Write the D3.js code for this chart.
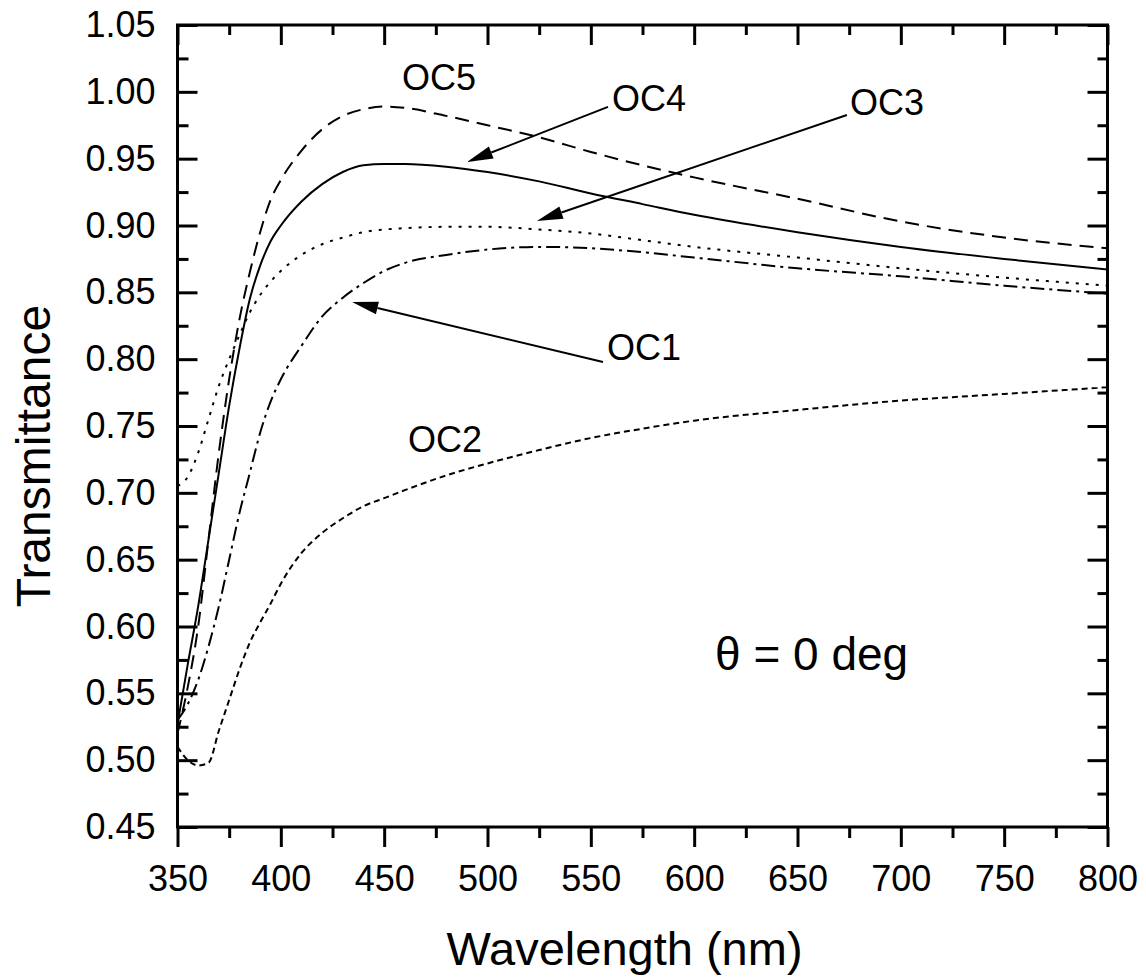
<!DOCTYPE html>
<html><head><meta charset="utf-8">
<script src="https://cdn.jsdelivr.net/npm/d3@7"></script>
<style>body{margin:0;background:#fff}svg{display:block}</style>
</head><body>
<svg id="c" width="1146" height="979"></svg>
<script>
// ---- data ----
const wavelengths = [350,355,360,365,370,375,380,385,390,395,400,410,420,430,440,450,460,480,500,525,550,575,600,650,700,750,800];
const oc1 = [0.530,0.542,0.560,0.585,0.615,0.650,0.685,0.715,0.745,0.768,0.785,0.810,0.832,0.846,0.857,0.866,0.872,0.878,0.882,0.884,0.883,0.880,0.876,0.868,0.862,0.855,0.849];
const oc2 = [0.510,0.500,0.496,0.498,0.522,0.545,0.568,0.588,0.603,0.617,0.632,0.655,0.670,0.681,0.690,0.696,0.702,0.713,0.722,0.732,0.741,0.748,0.754,0.762,0.769,0.774,0.779];
const oc3 = [0.705,0.712,0.730,0.755,0.780,0.800,0.818,0.835,0.848,0.858,0.866,0.878,0.886,0.891,0.895,0.897,0.898,0.899,0.899,0.897,0.894,0.889,0.884,0.876,0.868,0.861,0.855];
const oc4 = [0.527,0.572,0.615,0.665,0.715,0.765,0.808,0.845,0.870,0.888,0.900,0.918,0.931,0.940,0.945,0.946,0.946,0.944,0.940,0.933,0.924,0.916,0.908,0.895,0.884,0.875,0.867];
const oc5 = [0.520,0.555,0.600,0.665,0.730,0.785,0.830,0.865,0.895,0.919,0.934,0.956,0.972,0.982,0.987,0.989,0.988,0.982,0.975,0.966,0.955,0.945,0.936,0.920,0.903,0.891,0.883];
const seriesNames = ["OC1","OC2","OC3","OC4","OC5"];
const xMajorTicks = [350,400,450,500,550,600,650,700,750,800];
const xMinorTicks = [375,425,475,525,575,625,675,725,775];
const yMajorTicks = [0.45,0.50,0.55,0.60,0.65,0.70,0.75,0.80,0.85,0.90,0.95,1.00,1.05];
const yMinorTicks = [0.475,0.525,0.575,0.625,0.675,0.725,0.775,0.825,0.875,0.925,0.975,1.025];
// label anchors in data units: [wavelength, transmittance]
const labelPos = {OC5:[458.6,1.0014], OC4:[560.2,0.9857], OC3:[675.4,0.9827], OC1:[557.8,0.7994], OC2:[461.5,0.7305]};
// arrows: from [λ,T] to tip [λ,T]
const arrows = [
  {from:[558.3,0.9887], to:[490.1,0.9475]},
  {from:[673.9,0.9827], to:[523.9,0.9034]},
  {from:[555.9,0.7979], to:[434.5,0.8428]}
];
const annotation = "θ = 0 deg";
const annotationPos = [610.1,0.5675];

// ---- drawing ----
const svg = d3.select("#c");
const L = 177.5, R = 1107.5, T = 25, B = 827;
const x = d3.scaleLinear().domain([350,800]).range([L,R]);
const y = d3.scaleLinear().domain([0.45,1.05]).range([B,T]);
const font = "'Liberation Sans', Arial, Helvetica, sans-serif";

const styles = {
  OC1: {dash:"14,5,3,5"},
  OC2: {dash:"6,4"},
  OC3: {dash:"3,7"},
  OC4: {dash:null},
  OC5: {dash:"14,8"}
};
const dataMap = {OC1:oc1, OC2:oc2, OC3:oc3, OC4:oc4, OC5:oc5};

svg.append("clipPath").attr("id","pc").append("rect")
  .attr("x",L).attr("y",T).attr("width",R-L).attr("height",B-T);

const line = d3.line().x(d=>x(d[0])).y(d=>y(d[1])).curve(d3.curveMonotoneX);
const g = svg.append("g").attr("clip-path","url(#pc)");
seriesNames.forEach(n=>{
  const pts = wavelengths.map((w,i)=>[w,dataMap[n][i]]);
  g.append("path").attr("d",line(pts)).attr("fill","none")
    .attr("stroke","#000").attr("stroke-width",2)
    .attr("stroke-dasharray",styles[n].dash);
});

function styleAxis(sel){
  sel.select(".domain").remove();
  sel.selectAll(".tick line").attr("stroke","#000").attr("stroke-width",3);
  sel.selectAll("text").attr("font-family",font).attr("font-size",36).attr("fill","#000");
}
// bottom (outward)
svg.append("g").attr("transform",`translate(0,${B})`)
  .call(d3.axisBottom(x).tickValues(xMajorTicks).tickSize(20).tickPadding(18).tickFormat(d3.format("d"))).call(styleAxis);
svg.append("g").attr("transform",`translate(0,${B})`)
  .call(d3.axisBottom(x).tickValues(xMinorTicks).tickSize(11).tickFormat("")).call(styleAxis);
// top (inward)
svg.append("g").attr("transform",`translate(0,${T})`)
  .call(d3.axisTop(x).tickValues(xMajorTicks).tickSize(-20).tickFormat("")).call(styleAxis);
svg.append("g").attr("transform",`translate(0,${T})`)
  .call(d3.axisTop(x).tickValues(xMinorTicks).tickSize(-10).tickFormat("")).call(styleAxis);
// left (inward)
svg.append("g").attr("transform",`translate(${L},0)`)
  .call(d3.axisLeft(y).tickValues(yMajorTicks).tickSize(-20).tickPadding(22).tickFormat(d3.format(".2f"))).call(styleAxis);
svg.append("g").attr("transform",`translate(${L},0)`)
  .call(d3.axisLeft(y).tickValues(yMinorTicks).tickSize(-11).tickFormat("")).call(styleAxis);
// right (inward)
svg.append("g").attr("transform",`translate(${R},0)`)
  .call(d3.axisRight(y).tickValues(yMajorTicks).tickSize(-20).tickFormat("")).call(styleAxis);
svg.append("g").attr("transform",`translate(${R},0)`)
  .call(d3.axisRight(y).tickValues(yMinorTicks).tickSize(-10).tickFormat("")).call(styleAxis);

// frame
svg.append("rect").attr("x",L).attr("y",T).attr("width",R-L).attr("height",B-T)
  .attr("fill","none").attr("stroke","#000").attr("stroke-width",3);

// axis titles
svg.append("text").attr("x",(L+R)/2-18).attr("y",965).attr("text-anchor","middle")
  .attr("font-family",font).attr("font-size",47).text("Wavelength (nm)");
svg.append("text").attr("transform",`translate(50,${(T+B)/2+30}) rotate(-90)`).attr("text-anchor","middle")
  .attr("font-family",font).attr("font-size",48).text("Transmittance");

// series labels
seriesNames.forEach(n=>{
  const p = labelPos[n];
  svg.append("text").attr("x",x(p[0])).attr("y",y(p[1]))
    .attr("font-family",font).attr("font-size",36).text(n);
});

// arrows
arrows.forEach(a=>{
  const x1=x(a.from[0]), y1=y(a.from[1]), x2=x(a.to[0]), y2=y(a.to[1]);
  const ang = Math.atan2(y2-y1,x2-x1), len=26, hw=6.5;
  const bx = x2-len*Math.cos(ang), by = y2-len*Math.sin(ang);
  svg.append("line").attr("x1",x1).attr("y1",y1).attr("x2",bx).attr("y2",by)
    .attr("stroke","#000").attr("stroke-width",2);
  const px=-Math.sin(ang), py=Math.cos(ang);
  svg.append("path").attr("d",`M${x2},${y2}L${bx+px*hw},${by+py*hw}L${bx-px*hw},${by-py*hw}Z`).attr("fill","#000");
});

// theta annotation
svg.append("text").attr("x",x(annotationPos[0])).attr("y",y(annotationPos[1]))
  .attr("font-family",font).attr("font-size",46).text(annotation);
</script>
</body></html>
